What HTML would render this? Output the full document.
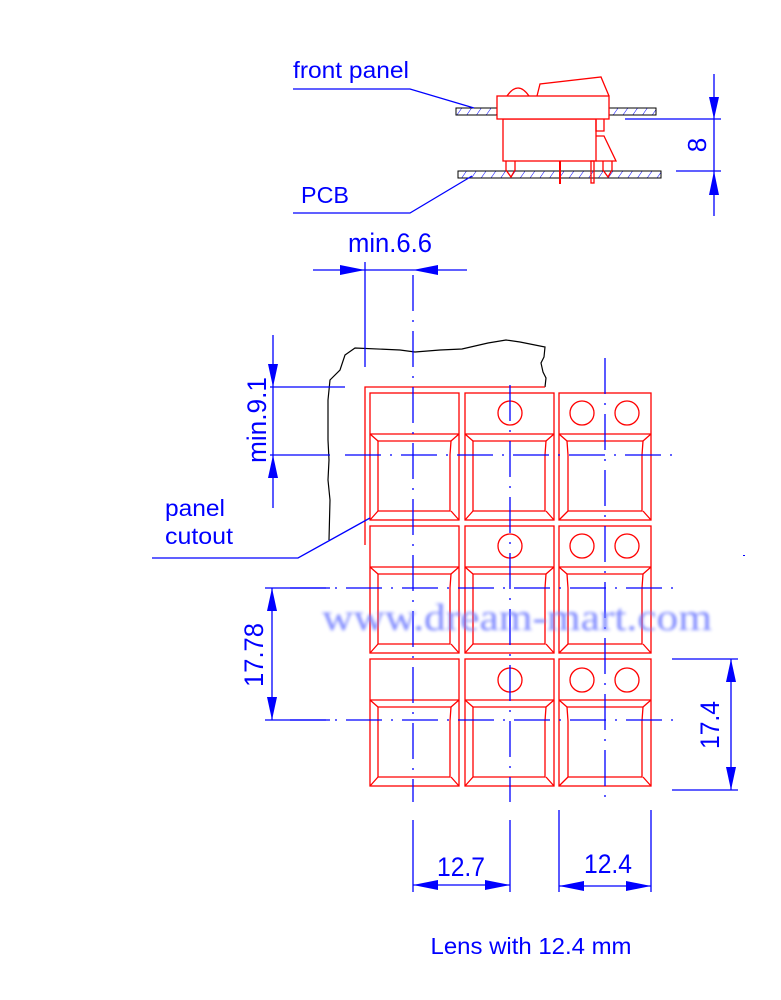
<!DOCTYPE html>
<html><head><meta charset="utf-8"><style>
html,body{margin:0;padding:0;background:#fff;width:781px;height:1000px;overflow:hidden}
svg{display:block}
text{font-family:"Liberation Sans",sans-serif;fill:#0000ff}
</style></head><body>
<svg width="781" height="1000" viewBox="0 0 781 1000" xmlns="http://www.w3.org/2000/svg">
<defs>
<g id="c1" fill="none" stroke="#f00" stroke-width="1.3">
<rect x="0" y="0" width="89" height="127"/>
<line x1="0" y1="41" x2="89" y2="41"/>
<path d="M8,48 H81 L80,62 V118 H8 V62 Z"/>
<path d="M0,41 L8,48 M89,41 L81,48 M0,127 L8,118 M89,127 L81,118"/>
</g>
<g id="c3" fill="none" stroke="#f00" stroke-width="1.3">
<rect x="0" y="0" width="92" height="127"/>
<line x1="0" y1="41" x2="92" y2="41"/>
<path d="M8,48 H84 L83,62 V118 H9 V62 Z"/>
<path d="M0,41 L8,48 M92,41 L84,48 M0,127 L9,118 M92,127 L84,118"/>
</g>
<pattern id="h" width="8" height="8" patternUnits="userSpaceOnUse" patternTransform="rotate(35)">
<line x1="0" y1="0" x2="0" y2="8" stroke="#00f" stroke-width="1"/>
</pattern>
<filter id="bl"><feGaussianBlur stdDeviation="1.6"/></filter>
</defs>

<!-- side view -->
<rect x="456" y="108" width="200" height="7" fill="url(#h)" stroke="#000"/>
<rect x="458" y="171" width="203" height="7" fill="url(#h)" stroke="#000"/>
<g fill="#fff" stroke="#f00" stroke-width="1.3">
<rect x="503" y="119" width="93" height="42"/>
<rect x="497" y="96" width="112" height="23"/>
</g>
<g fill="none" stroke="#f00" stroke-width="1.3">
<path d="M507,96 Q518,80 529,96"/>
<path d="M537,96 L540,84 L601,77 L609,96"/>
<path d="M596,119 V131 H604 V119 M596,136 H604 L616,161 H596"/>
<path d="M506,161 V170 L511,177 L515,170 V161"/>
<path d="M603,161 V170 L608,177 L612,170 V161"/>
<line x1="560" y1="161" x2="560" y2="184" stroke-width="2"/>
<rect x="591" y="161" width="3" height="22"/>
</g>
<g stroke="#00f" stroke-width="1.3" fill="none">
<path d="M293,89 H410 L474,108"/>
<path d="M293,213 H410 L472,176"/>
<line x1="714" y1="74" x2="714" y2="216"/>
<line x1="625" y1="119" x2="721" y2="119"/>
<line x1="676" y1="171" x2="721" y2="171"/>
</g>
<g fill="#00f">
<path d="M709,97 H719 L714,119 Z"/>
<path d="M709,195 H719 L714,171 Z"/>
</g>
<text x="293" y="78" font-size="23" textLength="116" lengthAdjust="spacingAndGlyphs">front panel</text>
<text x="301" y="203" font-size="23" textLength="48" lengthAdjust="spacingAndGlyphs">PCB</text>
<text transform="translate(706,145) rotate(-90)" font-size="26" text-anchor="middle">8</text>

<!-- panel outline -->
<path d="M329,540 L330,500 L328,480 L329,460 L328,440 L328,400 L330,380 L340,370 L345,355 L355,348 L400,350 L415,352 L440,350 L462,349 L488,343 L506,340 L520,342 L545,347 L544,357 L541,363 L543,372 L546,378 L545,387" fill="none" stroke="#000" stroke-width="1.2"/>
<path d="M365,545 V387 H545" fill="none" stroke="#f00" stroke-width="1.3"/>

<!-- cells -->
<use href="#c1" x="370" y="393"/><use href="#c1" x="465" y="393"/><use href="#c3" x="559" y="393"/>
<use href="#c1" x="370" y="526"/><use href="#c1" x="465" y="526"/><use href="#c3" x="559" y="526"/>
<use href="#c1" x="370" y="659"/><use href="#c1" x="465" y="659"/><use href="#c3" x="559" y="659"/>
<g fill="none" stroke="#f00" stroke-width="1.3">
<circle cx="510" cy="413" r="12"/><circle cx="582" cy="413" r="12"/><circle cx="627" cy="413" r="12"/>
<circle cx="510" cy="546" r="12"/><circle cx="582" cy="546" r="12"/><circle cx="627" cy="546" r="12"/>
<circle cx="510" cy="680" r="12"/><circle cx="582" cy="680" r="12"/><circle cx="627" cy="680" r="12"/>
</g>

<!-- center lines -->
<g stroke="#00f" stroke-width="1.3" stroke-dasharray="36,9,2,9">
<line x1="345" y1="455" x2="675" y2="455"/>
<line x1="290" y1="588" x2="675" y2="588"/>
<line x1="290" y1="720" x2="675" y2="720"/>
<line x1="413" y1="275" x2="413" y2="802"/>
<line x1="510" y1="385" x2="510" y2="802"/>
<line x1="605" y1="358" x2="605" y2="802"/>
</g>

<!-- dimensions -->
<g stroke="#00f" stroke-width="1.3" fill="none">
<line x1="313" y1="270" x2="467" y2="270"/>
<line x1="365" y1="262" x2="365" y2="367"/>
<line x1="273" y1="335" x2="273" y2="508"/>
<line x1="270" y1="387" x2="345" y2="387"/>
<line x1="270" y1="455" x2="330" y2="455"/>
<line x1="272" y1="588" x2="272" y2="720"/>
<line x1="265" y1="588" x2="330" y2="588"/>
<line x1="265" y1="720" x2="330" y2="720"/>
<line x1="731" y1="659" x2="731" y2="790"/>
<line x1="672" y1="659" x2="738" y2="659"/>
<line x1="672" y1="790" x2="738" y2="790"/>
<line x1="413" y1="820" x2="413" y2="892"/>
<line x1="510" y1="820" x2="510" y2="892"/>
<line x1="413" y1="885" x2="510" y2="885"/>
<line x1="559" y1="810" x2="559" y2="892"/>
<line x1="651" y1="810" x2="651" y2="892"/>
<line x1="559" y1="886" x2="651" y2="886"/>
</g>
<g fill="#00f">
<path d="M340,265 V275 L365,270 Z"/><path d="M438,265 V275 L413,270 Z"/>
<path d="M268,364 H278 L273,387 Z"/><path d="M268,478 H278 L273,455 Z"/>
<path d="M267,611 H277 L272,588 Z"/><path d="M267,697 H277 L272,720 Z"/>
<path d="M726,682 H736 L731,659 Z"/><path d="M726,767 H736 L731,790 Z"/>
<path d="M438,880 V890 L413,885 Z"/><path d="M485,880 V890 L510,885 Z"/>
<path d="M584,881 V891 L559,886 Z"/><path d="M626,881 V891 L651,886 Z"/>
</g>
<g font-size="27" text-anchor="middle">
<text x="390" y="252" textLength="84" lengthAdjust="spacingAndGlyphs">min.6.6</text>
<text transform="translate(266,420) rotate(-90)" textLength="86" lengthAdjust="spacingAndGlyphs">min.9.1</text>
<text transform="translate(263,655) rotate(-90)" textLength="64" lengthAdjust="spacingAndGlyphs">17.78</text>
<text transform="translate(719,725) rotate(-90)" textLength="48" lengthAdjust="spacingAndGlyphs">17.4</text>
<text x="461" y="876" textLength="48" lengthAdjust="spacingAndGlyphs">12.7</text>
<text x="608" y="873" textLength="48" lengthAdjust="spacingAndGlyphs">12.4</text>
</g>

<text x="165" y="516" font-size="23" textLength="60" lengthAdjust="spacingAndGlyphs">panel</text>
<text x="165" y="544" font-size="23" textLength="68" lengthAdjust="spacingAndGlyphs">cutout</text>
<path d="M152,558 H298 L370,518" fill="none" stroke="#00f" stroke-width="1.3"/>
<rect x="743" y="555" width="2" height="1" fill="#00f"/>

<text x="517" y="630" font-size="38" text-anchor="middle" style="font-family:'Liberation Serif',serif;fill:#6f7cff;opacity:0.9" textLength="390" lengthAdjust="spacingAndGlyphs" filter="url(#bl)">www.dream-mart.com</text>

<text x="531" y="954" font-size="23" text-anchor="middle" textLength="201" lengthAdjust="spacingAndGlyphs">Lens with 12.4 mm</text>
</svg>
</body></html>
